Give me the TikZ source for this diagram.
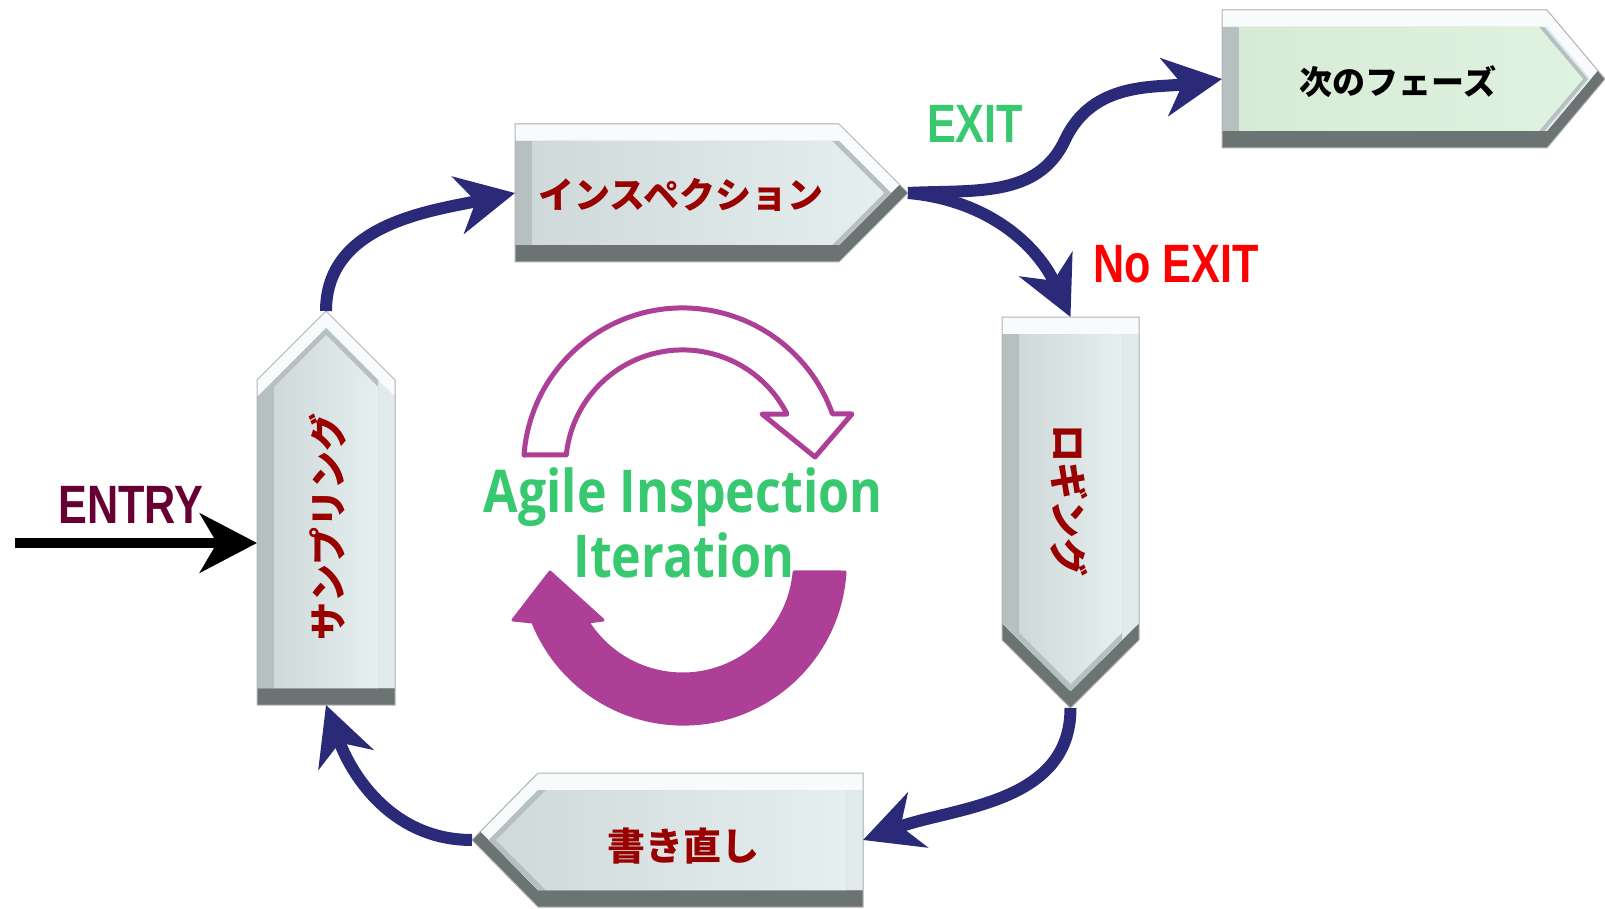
\documentclass[tikz,border=0pt]{standalone}
\usepackage{fontspec}
\usepackage{tikz}
\usetikzlibrary{arrows.meta}
\newfontfamily\jpfont{Noto Sans CJK JP}
\newfontfamily\signfont{Liberation Sans}[FakeStretch=0.8]
\newfontfamily\iterfont{Open Sans}[FakeStretch=0.85]
\definecolor{boxred}{HTML}{990000}
\definecolor{flownavy}{HTML}{2A2A78}
\definecolor{iterpurple}{HTML}{AD3F96}
\definecolor{signgreen}{HTML}{38C870}
\definecolor{entrymaroon}{HTML}{660033}
\definecolor{bevdark}{HTML}{6C7373}
\definecolor{bevside}{HTML}{B6C0C0}
\definecolor{bevright}{HTML}{E2EBEB}
\definecolor{bevlight}{HTML}{F8FBFB}
\definecolor{faceleft}{HTML}{CFD9D9}
\definecolor{faceright}{HTML}{E6EFEF}
\definecolor{greenleft}{HTML}{D6EBD6}
\definecolor{greenright}{HTML}{E0F2E0}

\tikzset{
  bevel edge/.style={draw=black!30, line width=1pt},
  face grey/.style={left color=faceleft, right color=faceright},
  face green/.style={left color=greenleft, right color=greenright},
  jplabel/.style={font=\jpfont\bfseries\fontsize{36}{40}\selectfont, text=boxred, inner sep=0pt},
  jpbig/.style={jplabel, font=\jpfont\bfseries\fontsize{38}{42}\selectfont},
  signlabel/.style={font=\signfont\bfseries\fontsize{54}{60}\selectfont, anchor=base, inner sep=0pt},
  iterlabel/.style={font=\iterfont\bfseries\fontsize{59}{64}\selectfont, text=signgreen, anchor=base, inner sep=0pt},
  flow/.style={draw=flownavy, line width=12pt, -{Stealth[length=58pt, width=58pt, inset=18pt]}},
  entryflow/.style={draw=black, line width=10pt, -{Stealth[length=57pt, width=59pt, inset=17pt]}},
  iter outline/.style={draw=iterpurple, line width=5pt, fill=white, line join=round},
  iter solid/.style={draw=iterpurple, line width=3pt, fill=iterpurple, line join=round}
}

\newcommand{\bevelbox}[3]{
  \begin{scope}
    \clip #1;
    \fill[bevdark] #1;
    \fill[bevlight, yshift=17pt] #1;
    \begin{scope}
      \clip[yshift=17pt] #1;
      \clip[yshift=-17pt] #1;
      \fill[bevright] #1;
      \fill[bevside, xshift=-17pt] #1;
    \end{scope}
    \shade[#3] #2;
  \end{scope}
  \draw[bevel edge] #1;
}

\begin{document}
\begin{tikzpicture}[x=1pt, y=-1pt]
  \useasboundingbox (0,0) rectangle (1605,909);

  % boxes
  \bevelbox{(515,124) -- (839,124) -- (908,193) -- (839,262) -- (515,262) -- cycle}
    {(532,141) -- (832,141) -- (884,193) -- (832,245) -- (532,245) -- cycle}{face grey}
  \bevelbox{(1222,10) -- (1547,10) -- (1605,79) -- (1547,148) -- (1222,148) -- cycle}
    {(1239,27) -- (1539,27) -- (1583,79) -- (1539,131) -- (1239,131) -- cycle}{face green}
  \bevelbox{(257,705) -- (257,380) -- (326,311) -- (395,380) -- (395,705) -- cycle}
    {(274,688) -- (274,387) -- (326,335) -- (378,387) -- (378,688) -- cycle}{face grey}
  \bevelbox{(1002,317) -- (1139,317) -- (1139,640) -- (1070.5,708) -- (1002,640) -- cycle}
    {(1019,334) -- (1122,334) -- (1122,632.5) -- (1070.5,684) -- (1019,632.5) -- cycle}{face grey}
  \bevelbox{(863,773) -- (538,773) -- (472,840) -- (538,907) -- (863,907) -- cycle}
    {(846,790) -- (546,790) -- (496,840) -- (546,890) -- (846,890) -- cycle}{face grey}

  \node[jplabel] (insp) at (681,195) {インスペクション};
  \node[jplabel, text=black, font=\jpfont\bfseries\fontsize{33}{36}\selectfont] (next) at (1398,82) {次のフェーズ};
  \node[jpbig, rotate=90] (samp) at (328,527) {サンプリング};
  \node[jpbig, rotate=-90] (logg) at (1069,500) {ロギング};
  \node[jpbig] (rewr) at (683,846) {書き直し};

  \coordinate (insp-in) at (515,193);
  \coordinate (insp-out) at (908,193);
  \coordinate (next-in) at (1222,79);
  \coordinate (exit-bend) at (1065,140);
  \coordinate (samp-top) at (326,311);
  \coordinate (samp-left) at (257,543);
  \coordinate (samp-bottom) at (326,705);
  \coordinate (logg-top) at (1070.5,317);
  \coordinate (logg-tip) at (1070.5,708);
  \coordinate (rewr-right) at (863,840);
  \coordinate (rewr-tip) at (472,840);
  \coordinate (entry-tail) at (15,543);

  % connectors
  \draw[entryflow] (entry-tail) -- (samp-left);
  \draw[flow] (samp-top) to[out=90, in=192] (insp-in);
  \draw[flow] (insp-out) to[out=-5, in=115] (logg-top);
  \draw[flow] (insp-out) to[out=3, in=-115] (exit-bend) to[out=65, in=188] (next-in);
  \draw[flow] (logg-tip) to[out=-90, in=20] (rewr-right);
  \draw[flow] (rewr-tip) to[out=180, in=-70] (samp-bottom);

  \node[signlabel, text=entrymaroon] (entry) at (131,523) {ENTRY};
  \node[signlabel, text=signgreen] (exit) at (975,143) {EXIT};
  \node[signlabel, text=red] (noexit) at (1176,283) {No EXIT};

  % iteration arrows
  \draw[iter outline] (524,455) arc[start angle=184.3, end angle=340.5, radius=159]
    -- (852,414) -- (815,457) -- (762,414) -- (787,414)
    arc[start angle=333.1, end angle=185.9, radius=117] -- cycle;
  \filldraw[iter solid] (845,572) arc[start angle=3.5, end angle=158.3, radius=162]
    -- (513,620) -- (550,572) -- (603,620) -- (588,622)
    arc[start angle=147.6, end angle=5.1, radius=112] -- cycle;
  \node[iterlabel] (iter-a) at (683,512) {Agile Inspection};
  \node[iterlabel] (iter-b) at (684,577) {Iteration};
\end{tikzpicture}
\end{document}
